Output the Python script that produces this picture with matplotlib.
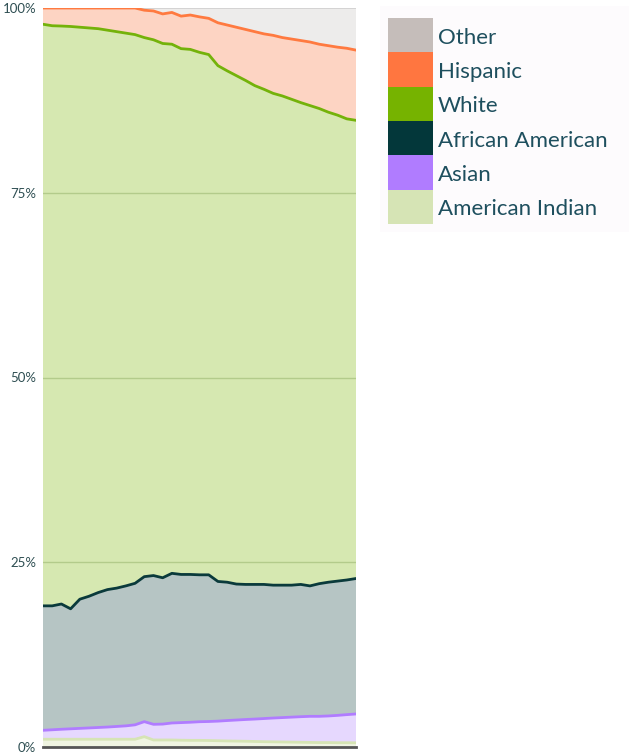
import numpy as np
import matplotlib
matplotlib.use("Agg")
import matplotlib.pyplot as plt
from matplotlib.patches import Rectangle

plt.rcParams['font.family'] = ['Lato', 'DejaVu Sans']

years = list(range(1980, 2015))

american_indian = [1.05, 1.05, 1.05, 1.05, 1.05, 1.05, 1.05, 1.05, 1.05, 1.05, 1.05,
                   1.40, 0.95, 0.95, 0.95, 0.92, 0.90, 0.90, 0.88, 0.85, 0.82, 0.80,
                   0.78, 0.75, 0.72, 0.70, 0.68, 0.66, 0.64, 0.62, 0.60, 0.60, 0.58,
                   0.58, 0.57]
asian = [1.21, 1.28, 1.35, 1.41, 1.47, 1.53, 1.59, 1.65, 1.73, 1.81, 1.95,
         2.03, 2.12, 2.15, 2.30, 2.38, 2.45, 2.52, 2.57, 2.65, 2.76, 2.85,
         2.94, 3.03, 3.13, 3.22, 3.30, 3.38, 3.46, 3.53, 3.55, 3.60, 3.70,
         3.80, 3.90]
african_american = [16.84, 16.77, 16.95, 16.24, 17.48, 17.82, 18.26, 18.60, 18.72, 18.94, 19.15,
                    19.62, 20.13, 19.80, 20.25, 20.05, 20.00, 19.88, 19.85, 18.90, 18.72, 18.40,
                    18.28, 18.22, 18.15, 17.98, 17.92, 17.86, 17.90, 17.65, 17.95, 18.10, 18.17,
                    18.22, 18.33]
white = [78.70, 78.50, 78.21, 78.80, 77.40, 76.90, 76.30, 75.70, 75.30, 74.80, 74.25,
         72.95, 72.50, 72.30, 71.60, 71.15, 71.05, 70.70, 70.40, 69.80, 69.20, 68.80,
         68.20, 67.50, 67.00, 66.55, 66.20, 65.75, 65.20, 65.00, 64.30, 63.60, 63.05,
         62.40, 62.00]
hispanic = [2.20, 2.40, 2.44, 2.50, 2.60, 2.70, 2.80, 3.00, 3.20, 3.40, 3.60,
            3.70, 3.90, 4.00, 4.30, 4.40, 4.65, 4.80, 4.90, 5.80, 6.20, 6.55,
            6.90, 7.30, 7.50, 7.85, 7.90, 8.15, 8.40, 8.60, 8.70, 9.00, 9.20,
            9.55, 9.50]
other = [0.0, 0.0, 0.0, 0.0, 0.0, 0.0, 0.0, 0.0, 0.0, 0.0, 0.0,
         0.30, 0.40, 0.80, 0.60, 1.10, 0.95, 1.20, 1.40, 2.00, 2.30, 2.60,
         2.90, 3.20, 3.50, 3.70, 4.00, 4.20, 4.40, 4.60, 4.90, 5.10, 5.30,
         5.45, 5.70]

series_names = ["American Indian", "Asian", "African American", "White", "Hispanic", "Other"]
y_ticks = [0, 25, 50, 75, 100]
y_tick_labels = ["0%", "25%", "50%", "75%", "100%"]

line_colors = ["#D6E4B5", "#B07CFF", "#0A3A3B", "#74B20A", "#FF7A40", None]
fill_colors = ["#EFF4E1", "#E6D8FE", "#B6C5C4", "#D6E8B1", "#FDD4C3", "#EDECEB"]
legend_colors = ["#D6E4B5", "#B07CFF", "#03373A", "#76B300", "#FF7640", "#C5BDBA"]

data = np.array([american_indian, asian, african_american, white, hispanic, other])
data = data / data.sum(axis=0) * 100

fig = plt.figure(figsize=(6.29, 7.53), dpi=100)
ax = fig.add_axes([43 / 629, 6 / 753, (356 - 43) / 629, (747 - 8) / 753])

x = np.array(years)
ax.stackplot(x, data, colors=fill_colors, linewidth=0)
cum = np.cumsum(data, axis=0)

for yv in [25, 50, 75]:
    ax.axhline(yv, color="#B3CB8B", lw=1.0, zorder=2)
ax.axhline(100, color="#CFCFCF", lw=1.2, zorder=2)

for i in range(5):
    ax.plot(x, cum[i], color=line_colors[i], lw=2.0, zorder=3, solid_joinstyle="round")

ax.axhline(0, color="#555555", lw=2.0, zorder=4, clip_on=False)

ax.set_xlim(x[0], x[-1])
ax.set_ylim(0, 100)
ax.set_yticks(y_ticks)
ax.set_yticklabels(y_tick_labels)
ax.set_xticks([])
ax.tick_params(axis="y", length=0, pad=5, labelsize=9.5, labelcolor="#2E4E52")
for s in ax.spines.values():
    s.set_visible(False)

# legend
lax = fig.add_axes([380 / 629, (753 - 232) / 753, (629 - 380) / 629, (232 - 6) / 753])
lax.set_xlim(380, 629)
lax.set_ylim(232, 6)
lax.set_facecolor("#FDFBFD")
lax.set_xticks([])
lax.set_yticks([])
for s in lax.spines.values():
    s.set_visible(False)

legend_order = list(range(5, -1, -1))
h = (224 - 18) / 6
for k, idx in enumerate(legend_order):
    top = 18 + k * h
    lax.add_patch(Rectangle((388, top), 45, h, facecolor=legend_colors[idx], edgecolor="none"))
    lax.text(438, top + h / 2 + 2.5, series_names[idx], fontsize=16, color="#1E4F5E",
             va="center", ha="left")

fig.savefig("out.png", dpi=100)
